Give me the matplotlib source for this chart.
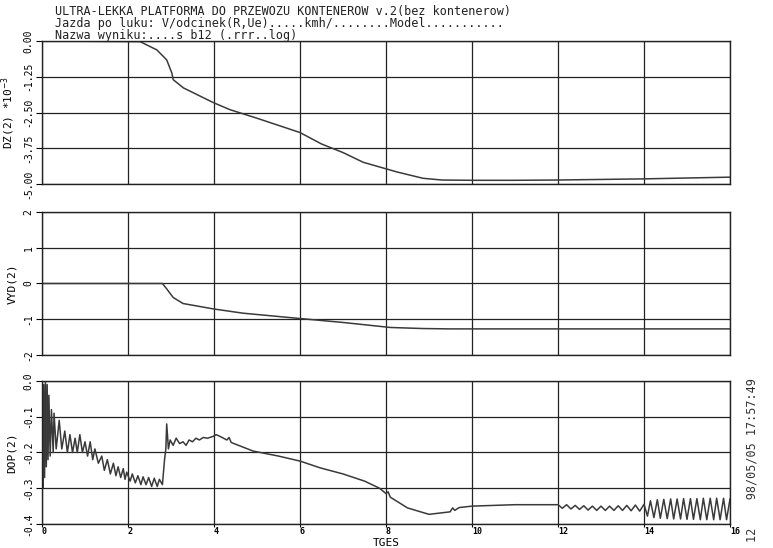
import numpy as np
import matplotlib
matplotlib.use("Agg")
import matplotlib.pyplot as plt

plt.rcParams["font.family"] = ["DejaVu Sans Mono"]

title_lines = [
    "ULTRA-LEKKA PLATFORMA DO PRZEWOZU KONTENEROW v.2(bez kontenerow)",
    "Jazda po luku: V/odcinek(R,Ue).....kmh/........Model...........",
    "Nazwa wyniku:....s_b12 (.rrr..log)",
]
stamp = "12    98/05/05 17:57:49"

x_ticks = [0, 2, 4, 6, 8, 10, 12, 14, 16]
x_labels = ["0", "2", "4", "6", "8", "10", "12", "14", "16"]

# DZ(2) in units of 1e-3
dz_t = [0, 2.28, 2.67, 2.90, 3.02, 3.05, 3.29, 3.98, 4.37, 5.0, 6.0, 6.5,
        7.0, 7.47, 8.26, 8.86, 9.3, 10.0, 11.0, 12.0, 13.0, 14.0, 15.0, 16.0]
dz_v = [0, -0.02, -0.31, -0.66, -1.12, -1.35, -1.64, -2.15, -2.4, -2.7, -3.2, -3.6,
        -3.9, -4.24, -4.58, -4.8, -4.86, -4.87, -4.87, -4.86, -4.84, -4.82, -4.79, -4.76]
dz_ticks = [0, -1.25, -2.5, -3.75, -5.0]
dz_labels = ["0.00", "-1.25", "-2.50", "-3.75", "-5.00"]

# VYD(2)
vy_t = [0, 2.8, 2.9, 3.05, 3.28, 3.98, 4.67, 6.0, 7.0, 8.1, 8.86, 9.5, 10, 12, 14, 16]
vy_v = [0, 0, -0.15, -0.39, -0.56, -0.71, -0.83, -0.98, -1.09, -1.23, -1.26, -1.27,
        -1.27, -1.27, -1.27, -1.27]
vy_ticks = [2, 1, 0, -1, -2]
vy_labels = ["2", "1", "0", "-1", "-2"]

# DOP(2)
dop_t = [0.00, 0.02, 0.04, 0.06, 0.08, 0.10, 0.12, 0.14, 0.16, 0.19, 0.22, 0.26,
         0.28, 0.33, 0.40, 0.46, 0.53, 0.59, 0.65, 0.71, 0.77, 0.82, 0.88, 0.94,
         1.00, 1.06, 1.12, 1.18, 1.23, 1.31, 1.39, 1.45, 1.52, 1.59, 1.66, 1.72,
         1.77, 1.83, 1.89, 1.93, 1.97, 2.05, 2.10, 2.17, 2.23, 2.30, 2.35, 2.42,
         2.48, 2.55, 2.61, 2.68, 2.73, 2.80, 2.85, 2.88, 2.90, 2.94, 2.98, 3.05,
         3.12, 3.20, 3.28, 3.35, 3.42, 3.50, 3.58, 3.66, 3.75, 3.85, 3.98, 4.05,
         4.14, 4.30, 4.35, 4.40, 4.91, 5.50, 6.00, 6.47, 7.00, 7.50, 7.85, 8.00,
         8.05, 8.10, 8.50, 9.00, 9.49, 9.55, 9.60, 9.70, 10.0, 11.0, 12.0,
         12.10, 12.20, 12.30, 12.40, 12.50, 12.60, 12.70, 12.80, 12.90, 13.00,
         13.10, 13.20, 13.30, 13.40, 13.50, 13.60, 13.70, 13.80, 13.90,
         14.00, 14.08, 14.15, 14.23, 14.31, 14.38, 14.46, 14.54, 14.62, 14.69,
         14.77, 14.85, 14.92, 15.00, 15.08, 15.15, 15.23, 15.31, 15.38, 15.46,
         15.54, 15.62, 15.69, 15.77, 15.85, 15.92, 16.00]
dop_v = [-0.16, -0.30, -0.01, -0.27, 0.00, -0.24, -0.01, -0.22, -0.04, -0.21, -0.08, -0.20,
         -0.09, -0.19, -0.11, -0.19, -0.14, -0.20, -0.15, -0.20, -0.16, -0.20, -0.15, -0.20,
         -0.17, -0.21, -0.17, -0.22, -0.19, -0.23, -0.21, -0.25, -0.22, -0.26, -0.23, -0.265,
         -0.24, -0.27, -0.245, -0.275, -0.255, -0.28, -0.26, -0.285, -0.265, -0.29, -0.268, -0.29,
         -0.27, -0.295, -0.272, -0.295, -0.275, -0.29, -0.22, -0.19, -0.12, -0.19, -0.165, -0.18,
         -0.16, -0.175, -0.17, -0.18, -0.165, -0.17, -0.16, -0.165, -0.158, -0.16, -0.155, -0.15,
         -0.155, -0.165, -0.158, -0.172, -0.196, -0.21, -0.224, -0.243, -0.26, -0.28, -0.30, -0.315,
         -0.31, -0.325, -0.355, -0.373, -0.366, -0.355, -0.362, -0.354, -0.35, -0.346, -0.346,
         -0.356, -0.346, -0.358, -0.348, -0.359, -0.349, -0.361, -0.350, -0.362, -0.350,
         -0.362, -0.350, -0.362, -0.349, -0.362, -0.348, -0.363, -0.347, -0.364,
         -0.345, -0.378, -0.335, -0.382, -0.332, -0.384, -0.331, -0.385, -0.330, -0.386,
         -0.330, -0.386, -0.329, -0.387, -0.329, -0.387, -0.329, -0.388, -0.328, -0.388,
         -0.328, -0.388, -0.328, -0.388, -0.328, -0.388, -0.33]
dop_ticks = [0.0, -0.1, -0.2, -0.3, -0.4]
dop_labels = ["0.0", "-0.1", "-0.2", "-0.3", "-0.4"]

panels = [
    (dz_t, dz_v, dz_ticks, dz_labels, "DZ(2) *10$^{-3}$", 0.6642),
    (vy_t, vy_v, vy_ticks, vy_labels, "VYD(2)", 0.3522),
    (dop_t, dop_v, dop_ticks, dop_labels, "DOP(2)", 0.0438),
]

fig = plt.figure(figsize=(7.73, 5.48), dpi=100)
left = 42 / 773
width = 688 / 773
height = 143 / 548

axes = []
for t, v, yt, yl, name, bottom in panels:
    ax = fig.add_axes([left, bottom, width, height])
    ax.plot(t, v, color="#3a3a3a", lw=1.1)
    ax.set_xlim(0, 16)
    ax.set_ylim(min(yt), max(yt))
    ax.set_xticks(x_ticks)
    ax.set_yticks(yt)
    ax.set_yticklabels(yl, rotation=90, va="center", fontsize=7)
    ax.grid(True, color="#222222", lw=0.9)
    ax.tick_params(axis="y", direction="out", length=4, width=0.8, pad=2)
    ax.tick_params(axis="x", direction="out", length=2, width=0.8)
    for s in ax.spines.values():
        s.set_color("#222222")
        s.set_linewidth(1.0)
    ax.set_ylabel(name, fontsize=8, labelpad=2)
    ax.yaxis.set_label_coords(-0.036, 0.5)
    axes.append(ax)

for ax in axes[:2]:
    ax.set_xticklabels([])
    ax.tick_params(axis="x", length=0)

axes[2].set_xticklabels(x_labels, fontsize=6, fontweight="bold", ha="left")
axes[2].tick_params(axis="x", pad=0)

# x axis title sits just under the tick labels
fig.text(386 / 773, 0.2 / 548, "TGES", fontsize=8, ha="center", va="bottom")

for i, line in enumerate(title_lines):
    fig.text(55 / 773, 1 - (11.5 + 12 * i) / 548, line, fontsize=8.5,
             va="center", ha="left", color="#222222")

fig.text(752 / 773, 1 - 460 / 548, stamp, rotation=90, fontsize=8.5,
         va="center", ha="center", color="#333333")

fig.savefig("out.png", dpi=100, facecolor="white")
